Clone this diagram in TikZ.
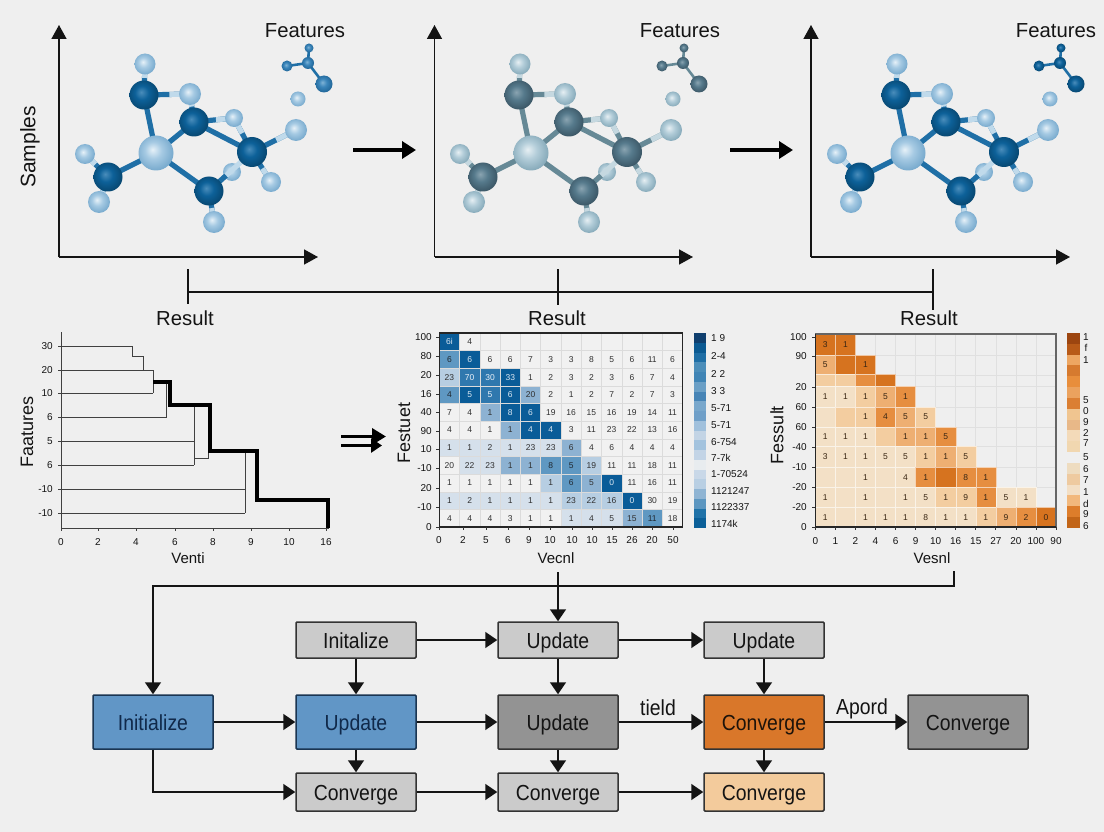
\documentclass[tikz,border=0pt]{standalone}
\usepackage{fontspec}
\setmainfont{Liberation Sans}
\newfontfamily\flowfont[FakeStretch=0.89]{Liberation Sans}
\usetikzlibrary{arrows.meta,calc}
\definecolor{bgc}{HTML}{EFEFEF}
\definecolor{inkc}{HTML}{141414}
% heat levels
\definecolor{bl0}{HTML}{F1F1F1}\definecolor{bl1}{HTML}{D5E0EB}\definecolor{bl2}{HTML}{B7CEE2}
\definecolor{bl3}{HTML}{8DB2D2}\definecolor{bl4}{HTML}{5F98C2}\definecolor{bl5}{HTML}{2F78AE}\definecolor{bl6}{HTML}{0A5C98}
\definecolor{tb0}{HTML}{303030}\definecolor{tb1}{HTML}{303030}\definecolor{tb2}{HTML}{303030}
\definecolor{tb3}{HTML}{303030}\definecolor{tb4}{HTML}{202830}\definecolor{tb5}{HTML}{E8F0F8}\definecolor{tb6}{HTML}{DCE8F2}
\definecolor{or1}{HTML}{F3E0C6}\definecolor{or2}{HTML}{F3CDA0}\definecolor{or3}{HTML}{EEAF72}
\definecolor{or4}{HTML}{E68E40}\definecolor{or5}{HTML}{D6731F}
% boxes
\definecolor{boxgrey}{HTML}{CBCBCB}\definecolor{boxblue}{HTML}{6196C6}\definecolor{boxdark}{HTML}{939393}
\definecolor{boxorange}{HTML}{D9772A}\definecolor{boxpale}{HTML}{F3CB9C}
\definecolor{navyink}{HTML}{10294A}\definecolor{navyline}{HTML}{1A3552}
% atoms
\definecolor{d1a}{HTML}{4A8DBB}\definecolor{d1b}{HTML}{0D6199}\definecolor{d1c}{HTML}{07466F}
\definecolor{l1a}{HTML}{E6F1F8}\definecolor{l1b}{HTML}{A6CAE3}\definecolor{l1c}{HTML}{75A8CC}
\definecolor{m1a}{HTML}{7FB3D6}\definecolor{m1b}{HTML}{3A85BA}\definecolor{m1c}{HTML}{1F6496}
\definecolor{d2a}{HTML}{8AA4B1}\definecolor{d2b}{HTML}{567A8C}\definecolor{d2c}{HTML}{3A5564}
\definecolor{l2a}{HTML}{E6EFF3}\definecolor{l2b}{HTML}{B3CDD9}\definecolor{l2c}{HTML}{84A8B8}
\definecolor{m2a}{HTML}{8AA4B1}\definecolor{m2b}{HTML}{567A8C}\definecolor{m2c}{HTML}{3A5564}
\definecolor{bd1}{HTML}{1F6FA6}\definecolor{bl1c}{HTML}{C0DAEB}
\definecolor{bd2}{HTML}{668996}\definecolor{bl2c}{HTML}{C5D8E0}
\newcommand\defatom[4]{\pgfdeclareradialshading{#1}{\pgfqpoint{-5bp}{5bp}}{color(0bp)=(#2); color(12bp)=(#3); color(28bp)=(#4); color(50bp)=(#4)}}
\defatom{atomD1}{d1a}{d1b}{d1c}\defatom{atomL1}{l1a}{l1b}{l1c}\defatom{atomM1}{m1a}{m1b}{m1c}\defatom{atomF1}{m1a}{m1b}{m1c}
\defatom{atomD2}{d2a}{d2b}{d2c}\defatom{atomL2}{l2a}{l2b}{l2c}\defatom{atomM2}{m2a}{m2b}{m2c}\defatom{atomF2}{m2a}{m2b}{m2c}
\defatom{atomD3}{d1a}{d1b}{d1c}\defatom{atomL3}{l1a}{l1b}{l1c}\defatom{atomM3}{d1a}{d1b}{d1c}\defatom{atomF3}{d1a}{d1b}{d1c}
\colorlet{bd3}{bd1}\colorlet{bl3c}{bl1c}
\tikzset{
  axisline/.style={draw=inkc,line width=1.5pt,-{Triangle[length=14pt,width=15pt]}},
  bigarrow/.style={draw=black,line width=4pt,-{Triangle[length=14pt,width=17pt]}},
  bracketline/.style={draw=inkc,line width=1.3pt},
  plotlabel/.style={inner sep=0pt,text=inkc,font=\fontsize{20.3}{24}\selectfont},
  axislab/.style={inner sep=0pt,text=inkc,font=\fontsize{18}{21}\selectfont},
  xylab/.style={inner sep=0pt,text=inkc,font=\fontsize{15}{18}\selectfont},
  ticklab/.style={inner sep=0pt,text=inkc,font=\fontsize{10}{12}\selectfont},
  barlab/.style={inner sep=0pt,text=inkc,font=\fontsize{10}{12}\selectfont},
  cellbox/.style={inner sep=0pt,outer sep=0pt,font=\fontsize{8.5}{10}\selectfont},
  dthin/.style={draw=black!75,line width=1pt},
  dthick/.style={draw=black,line width=4.5pt,line join=miter},
  flowbox/.style={draw=#1,line width=1.5pt,rounded corners=1pt,minimum width=120pt,inner sep=0pt,text height=20pt,text depth=4pt,font=\flowfont\fontsize{21.8}{26}\selectfont},
  smallbox/.style={flowbox=black!80,minimum height=36pt,fill=boxgrey,text=inkc},
  tallbox/.style={flowbox=black!80,minimum height=54pt},
  bluebox/.style={tallbox,fill=boxblue,text=navyink,draw=navyline},
  flow/.style={draw=inkc,line width=1.6pt,-{Triangle[length=12pt,width=16pt]}},
  flowplain/.style={draw=inkc,line width=1.6pt},
  edgelab/.style={inner sep=0pt,anchor=base,text=inkc,font=\flowfont\fontsize{21.8}{26}\selectfont},
  gridl/.style={draw=black!12,line width=.6pt},
  framel/.style={draw=black!85,line width=1.1pt}
}
% one molecule: #1 palette index, #2 horizontal offset
\newcommand\atom[3]{\shade[shading=atom#1\mi] (#2) circle (#3pt);}
\newcommand\bondd[2]{\draw[line width=5.2pt,draw=bd\mi] (#1) -- (#2);}
\newcommand\bondl[2]{\draw[line width=5.2pt,draw=bd\mi] (#1) -- (#2);\draw[line width=5.2pt,draw=bl\mi c] ($(#1)!.55!(#2)$) -- (#2);}
\newcommand\molecule[2]{%
\def\mi{#1}%
\begin{scope}[xshift=#2pt,name prefix=mol#1-]
 \coordinate (Ht) at (145,64);\coordinate (A) at (144,95);\coordinate (Ha) at (190,94);
 \coordinate (B) at (194,122);\coordinate (Hb) at (234,118);\coordinate (Hr) at (296,130);
 \coordinate (C) at (252,152);\coordinate (M) at (156,153);\coordinate (Hl) at (85,154);
 \coordinate (D) at (108,177);\coordinate (Hd) at (99,202);\coordinate (E) at (209,191);
 \coordinate (He) at (214,222);\coordinate (Hc) at (271,182);\coordinate (Hx) at (232,172);
 \coordinate (Sa) at (309,48);\coordinate (Sb) at (308,63);\coordinate (Sc) at (287,66);
 \coordinate (Sd) at (324,84);\coordinate (Se) at (298,99);
 \atom{L}{Hx}{9}
 \bondd{M}{A}\bondd{M}{B}\bondd{M}{D}\bondd{M}{E}\bondd{B}{C}
 \bondl{B}{Hb}\bondl{C}{Hb}\bondl{A}{Ht}\bondl{A}{Ha}\bondl{B}{Ha}
 \bondl{C}{Hr}\bondl{C}{Hc}\bondl{D}{Hl}\bondl{D}{Hd}\bondl{E}{He}
 \draw[line width=5.2pt,draw=bd\mi] (E) -- ($(E)!.4!(C)$);
 \draw[line width=5.2pt,draw=bl\mi c] ($(E)!.4!(C)$) -- ($(E)!.85!(C)$);
 \atom{L}{Ht}{10.5}\atom{D}{A}{14.5}\atom{L}{Ha}{11}\atom{D}{B}{14.5}\atom{L}{Hb}{9}
 \atom{L}{Hr}{11}\atom{D}{C}{15}\atom{L}{M}{17.5}\atom{L}{Hl}{10}\atom{D}{D}{14.5}
 \atom{L}{Hd}{11}\atom{D}{E}{14.5}\atom{L}{He}{11}\atom{L}{Hc}{10}
 \draw[line width=2.6pt,draw=bd\mi] (Sa)--(Sb) (Sb)--(Sc) (Sb)--(Sd);
 \atom{M}{Sa}{4.5}\atom{M}{Sb}{6}\atom{M}{Sc}{5.5}\atom{F}{Sd}{8.5}\atom{L}{Se}{7.5}
\end{scope}}
\begin{document}
\begin{tikzpicture}[x=1pt,y=-1pt]
\useasboundingbox (0,0) rectangle (1104,832);
\fill[bgc] (0,0) rectangle (1104,832);
% --- axes
\foreach \n/\xa/\xb in {1/59/318,2/434.5/693,3/811/1070}{
  \coordinate (ax\n o) at (\xa,257);
  \coordinate (ax\n t) at (\xa,25);
  \coordinate (ax\n r) at (\xb,257);
  \draw[axisline] (ax\n o) -- (ax\n t);
  \draw[axisline] (ax\n o) -- (ax\n r);
}
\node[plotlabel] (feat1) at (305,31) {Features};
\node[plotlabel] (feat2) at (680,31) {Features};
\node[plotlabel] (feat3) at (1056,31) {Features};
\node[plotlabel,font=\fontsize{21}{25}\selectfont,rotate=90] (samples) at (30,147) {Samples};
\molecule{1}{0}
\molecule{2}{375}
\molecule{3}{752}
\coordinate (ba1) at (353,150);\coordinate (ba2) at (416,150);
\coordinate (bb1) at (730,150);\coordinate (bb2) at (793,150);
\draw[bigarrow] (ba1) -- (ba2);
\draw[bigarrow] (bb1) -- (bb2);
% --- bracket
\node[plotlabel] (res1) at (185,318) {Result};
\node[plotlabel] (res2) at (557,318) {Result};
\node[plotlabel] (res3) at (929,318) {Result};
\coordinate (st1) at (188,269);\coordinate (sb1) at (188,304);\coordinate (sm1) at (188,292);
\coordinate (st2) at (558,269);\coordinate (sb2) at (558,305);
\coordinate (st3) at (933,269);\coordinate (sb3) at (933,310);\coordinate (sm3) at (933,292);
\draw[bracketline] (st1) -- (sb1);
\draw[bracketline] (st2) -- (sb2);
\draw[bracketline] (st3) -- (sb3);
\draw[bracketline] (sm1) -- (sm3);
% --- dendrogram
\coordinate (dO) at (61,528);\coordinate (dT) at (61,332);\coordinate (dR) at (329,528);
\draw[draw=black!75,line width=1pt] (dT) -- (dO) -- (dR);
\foreach \t/\px [count=\i] in {0/61,2/98,4/136,6/175,8/213,9/251,10/289,16/326}{
  \draw[draw=black!75,line width=.8pt] (\px,528) -- (\px,531);
  \node[ticklab] (dx\i) at (\px,542) {\t};
}
\foreach \t/\py [count=\i] in {30/346,20/370,10/393,6/417,5/441,6/465,-10/489,-10/513}{
  \node[ticklab,anchor=east] (dy\i) at (53,\py) {\t};
  \coordinate (dl\i) at (58,\py);
}
\draw[dthin] (dl1) -- (132,346) -- (132,356) -- (143,356) -- (143,370);
\draw[dthin] (dl2) -- (153,370) -- (153,393);
\draw[dthin] (dl3) -- (153,393);
\draw[dthin] (dl4) -- (166,417) -- (166,382);
\draw[dthin] (dl5) -- (194,441);
\draw[dthin] (dl6) -- (194,465);
\draw[dthin] (194,405) -- (194,465);
\draw[dthin] (194,458) -- (208,458) -- (208,451);
\draw[dthin] (dl7) -- (245,489);
\draw[dthin] (dl8) -- (245,513);
\draw[dthin] (245,451) -- (245,513);
\draw[dthick] (153,382) -- (170,382) -- (170,405) -- (210,405) -- (210,451) -- (257,451) -- (257,500) -- (328,500) -- (328,528);
\node[axislab,rotate=90] (dylab) at (27,432) {Faatures};
\node[xylab] (dxlab) at (188,558) {Venti};
% --- double arrow
\coordinate (da1) at (341,436.5);\coordinate (da2) at (386,436.5);
\coordinate (db1) at (341,445.5);\coordinate (db2) at (382,445.5);
\draw[draw=black,line width=3.6pt,-{Triangle[length=14pt,width=16pt]}] (da1) -- (da2);
\draw[draw=black,line width=3.6pt,-{Triangle[length=11pt,width=14pt]}] (db1) -- (db2);
% --- blue heatmap
\foreach \row [count=\r] in {
 {6/6i,0/4,0/{},0/{},0/{},0/{},0/{},0/{},0/{},0/{},0/{},0/{}},
 {4/6,6/6,0/6,0/6,0/7,0/3,0/3,0/8,0/5,0/6,0/11,0/6},
 {2/23,5/70,5/30,6/33,0/1,0/2,0/3,0/2,0/3,0/6,0/7,0/4},
 {4/4,6/5,5/5,6/6,3/20,0/2,0/1,0/2,0/7,0/2,0/7,0/3},
 {0/7,0/4,3/1,6/8,6/6,0/19,0/16,0/15,0/16,0/19,0/14,0/11},
 {0/4,0/4,0/1,3/1,6/4,6/4,0/3,0/11,0/23,0/22,0/13,0/16},
 {1/1,1/1,1/2,1/1,1/23,1/23,3/6,0/4,0/6,0/4,0/4,0/4},
 {0/20,1/22,1/23,3/1,3/1,4/8,4/5,2/19,0/11,0/11,0/18,0/11},
 {0/1,0/1,0/1,0/1,0/1,2/1,4/6,3/5,6/0,0/11,0/16,0/11},
 {1/1,1/2,1/1,1/1,1/1,1/1,2/23,2/22,2/16,6/0,0/30,0/19},
 {0/4,0/4,0/4,0/3,0/1,0/1,1/1,1/4,1/5,3/15,4/11,0/18}}{
  \foreach \lv/\tx [count=\c] in \row {
    \node[cellbox,minimum width=20.3pt,minimum height=17.64pt,fill=bl\lv,text=tb\lv,draw=black!14,line width=.5pt]
      (ha\r-\c) at ({439.3+(\c-.5)*20.28},{333+(\r-.5)*17.64}) {\tx};
  }
}
\coordinate (haA) at (439.3,333);\coordinate (haB) at (682.7,527);
\draw[framel] (haA) rectangle (haB);
\foreach \t/\py [count=\i] in {100/337,80/356,20/375,16/394,40/412,90/431,10/449,-10/468,20/488,-10/507,0/527}{
  \node[ticklab,anchor=east] (hay\i) at (432,\py) {\t};
  \draw[draw=black!80,line width=.8pt] (436,\py) -- (439,\py);
}
\foreach \t/\px [count=\i] in {0/439,2/463,5/486,6/508,9/529,10/550,10/572,10/592,15/612,26/632,20/652,50/673}{
  \node[ticklab] (hax\i) at (\px,540) {\t};
  \draw[draw=black!80,line width=.8pt] (\px,527) -- (\px,530);
}
\node[xylab] (haxlab) at (556,558) {Vecnl};
\node[axislab,rotate=90] (haylab) at (404,433) {Festuet};
\foreach \cc [count=\i from 0] in {0F3F6E,0B5A92,1E6EA5,4B8DB9,3F84B5,6A9FC6,4684B6,78A7CC,6F9FC8,A0C0DC,C3D4E5,A3C3DE,C3D4E6,E8ECEF,C9D8E8,B9CFE3,8FB4D3,5C96C0,1F72A8,0B5F98}{
  \definecolor{segc}{HTML}{\cc}
  \fill[segc] (694,{333+\i*9.75}) rectangle (706,{333+(\i+1)*9.75});
}
\foreach \t/\py [count=\i] in {1 9/338,2-4/356,2 2/374,3 3/391,5-71/408,5-71/425,6-754/442,7-7k/458,1-70524/474,1121247/491,1122337/507,1174k/524}{
  \node[barlab,anchor=west] (hal\i) at (711,\py) {\t};
}
% --- orange heatmap
\foreach \i in {0,...,12}{\draw[gridl] ({815.3+\i*20.06},334) -- ({815.3+\i*20.06},527);}
\foreach \py in {334,355,375,386,407,427,446,467,487,507,527}{\draw[gridl] (815.3,\py) -- (1056,\py);}
\foreach \ya/\hh/\row [count=\r] in {
 334/21/{5/3,5/1},
 355/19.5/{3/5,5/{},5/1},
 374.5/11.5/{2/{},2/{},4/{},5/{}},
 386/21/{1/1,1/1,2/1,3/5,4/1},
 407/20/{1/{},2/{},2/1,4/4,3/5,2/5},
 427/19.5/{1/1,1/1,1/1,2/{},3/1,3/1,4/5},
 446.5/20.5/{1/3,1/1,1/1,1/5,1/5,2/1,3/1,2/5},
 467/20.5/{1/{},1/{},1/1,1/{},1/4,4/1,5/{},4/8,4/1},
 487.5/20/{1/1,1/{},1/1,1/{},1/1,1/5,2/1,2/9,4/1,1/5,1/1},
 507.5/19.5/{1/1,1/{},1/1,1/1,1/1,1/8,1/1,1/1,2/1,3/9,4/2,5/0}}{
  \foreach \lv/\tx [count=\c] in \row {
    \node[cellbox,minimum width=20.06pt,minimum height=\hh pt,fill=or\lv,text=black!70!brown,draw=white!60!or\lv,line width=.4pt]
      (hb\r-\c) at ({815.3+(\c-.5)*20.06},{\ya+\hh/2}) {\tx};
  }
}
\coordinate (hbA) at (815.3,334);\coordinate (hbB) at (1056,527);
\draw[framel,draw=black!60] (hbA) rectangle (hbB);
\draw[framel] (815.3,334) -- (815.3,527) -- (1056,527);
\foreach \t/\py [count=\i] in {100/337,90/356,20/387,60/407,60/427,-40/447,-10/467,-20/487,-20/507,0/527}{
  \node[ticklab,anchor=east] (hby\i) at (807,\py) {\t};
  \draw[draw=black!80,line width=.8pt] (812,\py) -- (815,\py);
}
\foreach \t [count=\i from 0] in {0,1,2,4,6,9,10,16,15,27,20,100,90}{
  \node[ticklab] (hbx\i) at ({815.3+\i*20.06},541) {\t};
  \draw[draw=black!80,line width=.8pt] ({815.3+\i*20.06},527) -- ({815.3+\i*20.06},530);
}
\node[xylab] (hbxlab) at (932,558) {Vesnl};
\node[axislab,rotate=90] (hbylab) at (777,435) {Fessult};
\foreach \cc [count=\i from 0] in {9C4510,B85A18,EDA662,D67A2F,E88E3C,EBA25E,DB7F33,F0C590,E8B888,F3DAB9,F1D7B0,EFEFEF,EEDCC0,EECAA0,F3DFC5,F2B87C,DD7D2B,C26518}{
  \definecolor{segc}{HTML}{\cc}
  \fill[segc] (1067,{333+\i*10.83}) rectangle (1080,{333+(\i+1)*10.83});
}
\foreach \t/\py [count=\i] in {1/337,f/348,1/360,5/400,0/411,9/422,2/433,7/443,5/457,6/469,7/480,1/492,d/504,9/514,6/526}{
  \node[barlab] (hbl\i) at (1086,\py) {\t};
}
% --- flow
\node[smallbox] (ti) at (356,640) {Initalize};
\node[smallbox] (tu) at (558,640) {Update};
\node[smallbox] (tv) at (764,640) {Update};
\node[bluebox] (mi) at (153,722) {Initialize};
\node[bluebox] (mu) at (356,722) {Update};
\node[tallbox,fill=boxdark,text=inkc] (md) at (558,722) {Update};
\node[tallbox,fill=boxorange,text=black!85!brown] (mc) at (764,722) {Converge};
\node[tallbox,fill=boxdark,text=inkc] (me) at (968,722) {Converge};
\node[smallbox,minimum height=38pt] (bc) at (356,792) {Converge};
\node[smallbox,minimum height=38pt] (bd) at (558,792) {Converge};
\node[smallbox,minimum height=38pt,fill=boxpale] (be) at (764,792) {Converge};
\coordinate (fs) at (954,571);\coordinate (fc) at (954,586);\coordinate (fm) at (558,586);\coordinate (fj) at (558,572);
\coordinate (fl) at (153,586);
\draw[flowplain] (fs) -- (fc) -- (fm);
\draw[flow] (fm) -- (fl) -- (mi.north);
\draw[flow] (fj) -- (tu.north);
\draw[flow] (ti) -- (tu);
\draw[flow] (tu) -- (tv);
\draw[flow] (ti) -- (mu);
\draw[flow] (tu) -- (md);
\draw[flow] (tv) -- (mc);
\draw[flow] (mi) -- (mu);
\draw[flow] (mu) -- (md);
\draw[flow] (md) -- (mc);
\draw[flow] (mc) -- (me);
\draw[flow] (mu) -- (bc);
\draw[flow] (md) -- (bd);
\draw[flow] (mc) -- (be);
\draw[flow] (mi.south) |- (bc.west);
\draw[flow] (bc) -- (bd);
\draw[flow] (bd) -- (be);
\node[edgelab] (lt) at (658,715.5) {tield};
\node[edgelab] (la) at (862,714) {Apord};
\end{tikzpicture}
\end{document}
